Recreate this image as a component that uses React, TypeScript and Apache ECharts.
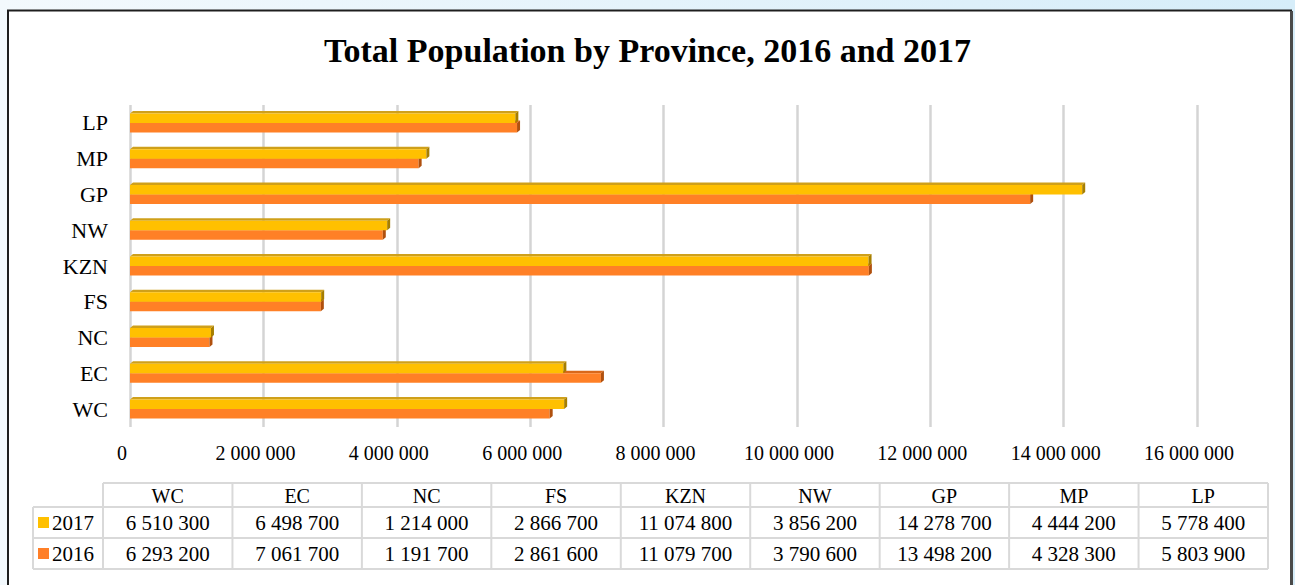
import React, { useEffect, useRef } from 'react';
import * as echarts from 'echarts';

const categories = ['WC', 'EC', 'NC', 'FS', 'KZN', 'NW', 'GP', 'MP', 'LP'];
const pop2017 = [6510300, 6498700, 1214000, 2866700, 11074800, 3856200, 14278700, 4444200, 5778400];
const pop2016 = [6293200, 7061700, 1191700, 2861600, 11079700, 3790600, 13498200, 4328300, 5803900];
const yearLabels = ['2017', '2016'];
const axisMin = 0;
const axisMax = 16000000;
const axisInterval = 2000000;
const chartTitle = 'Total Population by Province, 2016 and 2017';

const FONT = '"Liberation Serif", "Times New Roman", serif';

const fmt = (v: number) => String(Math.round(v)).replace(/\B(?=(\d{3})+(?!\d))/g, ' ');

const palette: Record<string, { front: string; top: string; side: string; key: string }> = {
  '2017': { front: '#FFC000', top: '#CFA01A', side: '#A67E00', key: '#FFC000' },
  '2016': { front: '#FF8026', top: '#D9681A', side: '#B0500E', key: '#FF7F27' },
};

function makeRender(year: string, upper: boolean) {
  const c = palette[year];
  return (params: any, api: any) => {
    const val = api.value(0);
    const cat = api.value(1);
    const s = api.coord([0, cat]);
    const e = api.coord([val, cat]);
    const h = 9.5;
    const dx = 3;
    const dy = 2.5;
    const x0 = s[0];
    const x1 = e[0];
    const yTop = upper ? s[1] - h : s[1];
    const yBot = yTop + h;
    return {
      type: 'group',
      children: [
        {
          type: 'polygon',
          shape: { points: [[x0, yTop], [x1, yTop], [x1 + dx, yTop - dy], [x0 + dx, yTop - dy]] },
          style: { fill: c.top },
        },
        {
          type: 'rect',
          shape: { x: x0, y: yTop, width: x1 - x0, height: h },
          style: { fill: c.front },
        },
        {
          type: 'polygon',
          shape: { points: [[x1, yTop], [x1 + dx, yTop - dy], [x1 + dx, yBot - dy], [x1, yBot]] },
          style: { fill: c.side },
        },
      ],
    };
  };
}

function buildTable(): any[] {
  const els: any[] = [];
  const left = 103;
  const right = 1268;
  const labelLeft = 33;
  const hTop = 483;
  const r1 = 507;
  const r2 = 538;
  const bot = 569;
  const colW = (right - left) / categories.length;
  const lineStyle = { stroke: '#d9d9d9', lineWidth: 2 };
  els.push({ type: 'line', shape: { x1: left, y1: hTop, x2: right, y2: hTop }, style: lineStyle });
  [r1, r2, bot].forEach((y) => {
    els.push({ type: 'line', shape: { x1: labelLeft, y1: y, x2: right, y2: y }, style: lineStyle });
  });
  els.push({ type: 'line', shape: { x1: labelLeft, y1: r1, x2: labelLeft, y2: bot }, style: lineStyle });
  for (let i = 0; i <= categories.length; i++) {
    const x = left + i * colW;
    els.push({ type: 'line', shape: { x1: x, y1: hTop, x2: x, y2: bot }, style: lineStyle });
  }
  const rows = [
    { year: yearLabels[0], vals: pop2017, top: r1 },
    { year: yearLabels[1], vals: pop2016, top: r2 },
  ];
  categories.forEach((cat, i) => {
    const cx = left + (i + 0.5) * colW;
    els.push({
      type: 'text',
      x: cx,
      y: (hTop + r1) / 2 + 1,
      style: { text: cat, fill: '#000', font: `20px ${FONT}`, align: 'center', verticalAlign: 'middle' },
    });
    rows.forEach((r) => {
      els.push({
        type: 'text',
        x: cx,
        y: r.top + 15.5,
        style: { text: fmt(r.vals[i]), fill: '#000', font: `21px ${FONT}`, align: 'center', verticalAlign: 'middle' },
      });
    });
  });
  rows.forEach((r) => {
    els.push({ type: 'rect', shape: { x: 38, y: r.top + 10, width: 11, height: 11 }, style: { fill: palette[r.year].key } });
    els.push({
      type: 'text',
      x: 52,
      y: r.top + 15.5,
      style: { text: r.year, fill: '#000', font: `21px ${FONT}`, align: 'left', verticalAlign: 'middle' },
    });
  });
  return els;
}

export default function App() {
  const ref = useRef<HTMLDivElement>(null);
  useEffect(() => {
    if (!ref.current) return;
    const chart = echarts.init(ref.current, null, { renderer: 'svg' });
    const option: any = {
      animation: false,
      textStyle: { fontFamily: FONT },
      title: {
        text: chartTitle,
        left: 'center',
        top: 28,
        textStyle: { fontFamily: FONT, fontWeight: 'bold', fontSize: 34, color: '#000' },
      },
      grid: { left: 130, right: 98, top: 105, height: 322 },
      xAxis: {
        type: 'value',
        min: axisMin,
        max: axisMax,
        interval: axisInterval,
        axisLine: { show: false },
        axisTick: { show: false },
        axisLabel: {
          color: '#000',
          fontSize: 20,
          fontFamily: FONT,
          margin: 16,
          padding: [0, 16, 0, 0],
          formatter: (v: number) => fmt(v),
        },
        splitLine: { show: true, lineStyle: { color: '#d4d4d4', width: 2.5 } },
      },
      yAxis: {
        type: 'category',
        data: categories,
        axisLine: { show: false },
        axisTick: { show: false },
        axisLabel: { color: '#000', fontSize: 22, fontFamily: FONT, margin: 22 },
        splitLine: { show: false },
      },
      series: [
        {
          name: yearLabels[1],
          type: 'custom',
          renderItem: makeRender('2016', false),
          encode: { x: 0, y: 1 },
          data: pop2016.map((v, i) => [v, i]),
          clip: false,
          z: 3,
        },
        {
          name: yearLabels[0],
          type: 'custom',
          renderItem: makeRender('2017', true),
          encode: { x: 0, y: 1 },
          data: pop2017.map((v, i) => [v, i]),
          clip: false,
          z: 4,
        },
      ],
      graphic: {
        elements: [
          {
            type: 'rect',
            z: -100,
            shape: { x: 0, y: 0, width: 1295, height: 585 },
            style: {
              fill: new echarts.graphic.LinearGradient(0, 0, 1, 0, [
                { offset: 0, color: '#f3f9fd' },
                { offset: 1, color: '#d6edf9' },
              ]),
            },
          },
          {
            type: 'rect',
            z: -99,
            shape: { x: 8, y: 10.5, width: 1283, height: 600 },
            style: { fill: '#ffffff', stroke: '#1e1e1e', lineWidth: 2 },
          },
          {
            type: 'rect',
            z: -98,
            shape: { x: 1290, y: 11, width: 3, height: 600 },
            style: { fill: '#4a4a4a' },
          },
          ...buildTable(),
        ],
      },
    };
    chart.setOption(option);
    return () => chart.dispose();
  }, []);
  return <div ref={ref} style={{ position: 'absolute', left: 0, top: 0, width: 1295, height: 585 }} />;
}
